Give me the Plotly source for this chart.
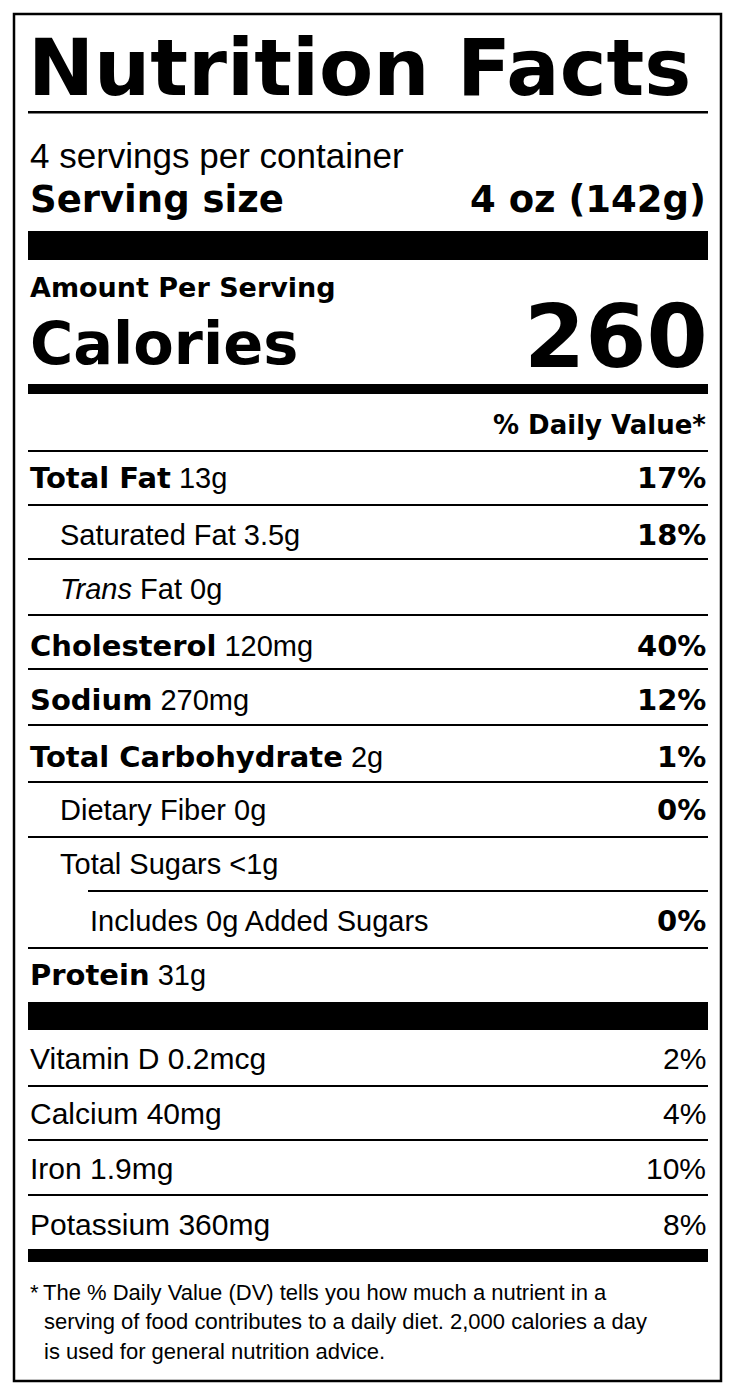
import plotly.graph_objects as go

W, H = 735, 1395
FONT = "Liberation Sans, Arial, sans-serif"
BFONT = "DejaVu Sans, Liberation Sans, sans-serif"

# ---- data ----
title = "Nutrition Facts"
servings_text = "4 servings per container"
serving_size_label = "Serving size"
serving_size_value = "4 oz (142g)"
calories_value = "260"

nutrient_names = ["Total Fat", "Saturated Fat", "Trans", "Cholesterol", "Sodium",
                  "Total Carbohydrate", "Dietary Fiber", "Total Sugars",
                  "Includes 0g Added Sugars", "Protein"]
nutrient_amounts = ["13g", "3.5g", "Fat 0g", "120mg", "270mg", "2g", "0g", "<1g", "", "31g"]
nutrient_dv = ["17%", "18%", "", "40%", "12%", "1%", "0%", "", "0%", ""]
nutrient_indent = [0, 1, 1, 0, 0, 0, 1, 1, 2, 0]
nutrient_bold = [True, False, False, True, True, True, False, False, False, True]

vitamin_names = ["Vitamin D 0.2mcg", "Calcium 40mg", "Iron 1.9mg", "Potassium 360mg"]
vitamin_dv = ["2%", "4%", "10%", "8%"]

footnote = ["*&#8201;The % Daily Value (DV) tells you how much a nutrient in a",
            "serving of food contributes to a daily diet. 2,000 calories a day",
            "is used for general nutrition advice."]

# ---- layout constants ----
L, R = 28, 708
nut_y = [478, 535, 589, 646, 700, 757, 810, 864, 921, 975]
nut_line_y = [505, 559, 615, 669, 725, 782, 837, 891, 948]
vit_y = [1058, 1113, 1168, 1224]
vit_line_y = [1086, 1140, 1195]

shapes = []
ann = []

def bar(y0, y1, x0=L, x1=R):
    shapes.append(dict(type="rect", xref="x", yref="y", x0=x0, x1=x1, y0=y0, y1=y1,
                       fillcolor="black", line=dict(width=0)))

def txt(x, y, s, size, anchor="left", bold=False):
    ann.append(dict(x=x, y=y, xref="x", yref="y", text=s, showarrow=False,
                    xanchor=anchor, yanchor="middle",
                    font=dict(family=BFONT if bold else FONT, size=size, color="black",
                              weight=700 if bold else 400)))

def btxt(s):
    return "<span style='font-family:DejaVu Sans;font-weight:bold'>" + s + "</span>"

# border
shapes.append(dict(type="rect", xref="x", yref="y", x0=14, x1=721, y0=14, y1=1381,
                   line=dict(color="black", width=2.5), fillcolor="rgba(0,0,0,0)"))

txt(L - 2, 68, title, 79, bold=True)
bar(111, 113.5)
txt(L, 155, servings_text, 35)
txt(L, 199, serving_size_label, 37, bold=True)
txt(R, 199, serving_size_value, 37, "right", bold=True)
bar(231, 260)
txt(L, 287, "Amount Per Serving", 27, bold=True)
txt(L, 343, "Calories", 59, bold=True)
txt(R + 2, 336, calories_value, 88, "right", bold=True)
bar(384, 394)
txt(R, 425, "% Daily Value*", 26, "right", bold=True)
bar(450, 452)

indent_px = [0, 30, 60]
for i, name in enumerate(nutrient_names):
    x = L + indent_px[nutrient_indent[i]]
    if name == "Trans":
        label = "<i>Trans</i> " + nutrient_amounts[i]
    elif nutrient_bold[i]:
        label = btxt(name) + " " + nutrient_amounts[i]
    else:
        label = (name + " " + nutrient_amounts[i]).strip()
    txt(x, nut_y[i], label, 29)
    if nutrient_dv[i]:
        txt(R, nut_y[i], nutrient_dv[i], 29, "right", bold=True)

for j, y in enumerate(nut_line_y):
    x0 = 88 if j == 7 else L
    bar(y - 1, y + 1, x0=x0)

bar(1002, 1030)
for i, name in enumerate(vitamin_names):
    txt(L, vit_y[i], name, 30)
    txt(R, vit_y[i], vitamin_dv[i], 30, "right")
for y in vit_line_y:
    bar(y - 1, y + 1)
bar(1249, 1262)

txt(L, 1292, footnote[0], 22)
txt(42, 1321, footnote[1], 22)
txt(42, 1351, footnote[2], 22)

fig = go.Figure()
fig.update_layout(width=W, height=H, margin=dict(l=0, r=0, t=0, b=0),
                  paper_bgcolor="white", plot_bgcolor="white",
                  xaxis=dict(range=[8, W + 8], visible=False, fixedrange=True),
                  yaxis=dict(range=[H + 8, 8], visible=False, fixedrange=True),
                  shapes=shapes, annotations=ann, showlegend=False)
fig.write_html("out.html")
